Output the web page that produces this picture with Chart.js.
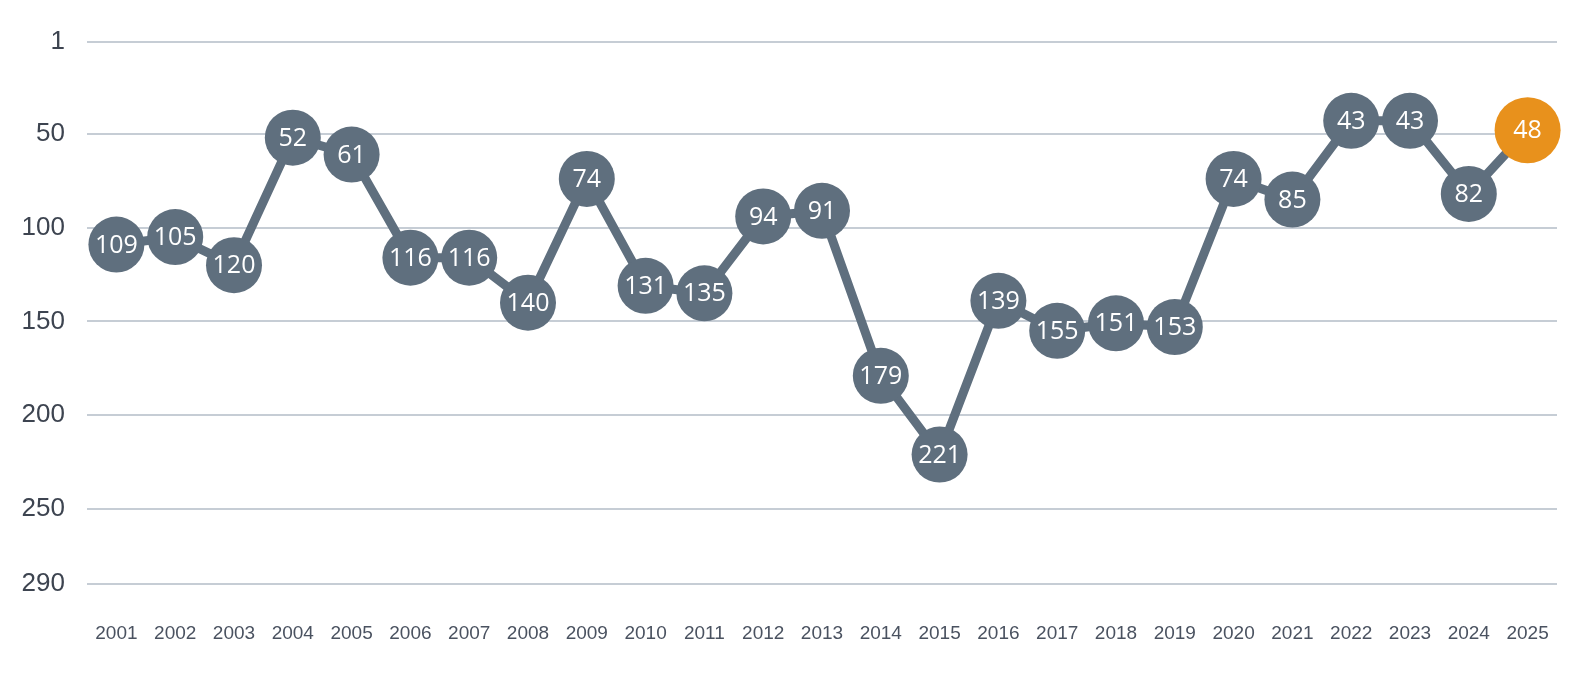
<!DOCTYPE html>
<html>
<head>
<meta charset="utf-8">
<script src="https://cdn.jsdelivr.net/npm/chart.js@4"></script>
<style>
  html, body { margin: 0; padding: 0; background: #fff; }
  #wrap { width: 1595px; height: 700px; }
</style>
</head>
<body>
<div id="wrap"><canvas id="rangChart"></canvas></div>
<script>
// jaren en rangposities
const jaren = ['2001','2002','2003','2004','2005','2006','2007','2008','2009','2010','2011','2012','2013',
               '2014','2015','2016','2017','2018','2019','2020','2021','2022','2023','2024','2025'];
const rang = [109, 105, 120, 52, 61, 116, 116, 140, 74, 131, 135, 94, 91,
              179, 221, 139, 155, 151, 153, 74, 85, 43, 43, 82, 48];
const yTicks = [1, 50, 100, 150, 200, 250, 290];

const grijs = '#5f6f7e';
const oranje = '#e8911c';

// laatste jaar in oranje en iets groter
const laatste = rang.length - 1;
const puntKleuren = rang.map((v, i) => i === laatste ? oranje : grijs);
const puntRadius = rang.map((v, i) => i === laatste ? 33 : 28);

// tekst in de cirkels
const puntLabels = {
    id: 'puntLabels',
    afterDatasetsDraw(chart) {
        const ctx = chart.ctx;
        const meta = chart.getDatasetMeta(0);
        ctx.save();
        ctx.fillStyle = '#ffffff';
        ctx.font = '25px "Open Sans", sans-serif';
        ctx.textAlign = 'center';
        ctx.textBaseline = 'middle';
        meta.data.forEach((pt, i) => {
            ctx.fillText(String(rang[i]), pt.x, pt.y + 1);
        });
        ctx.restore();
    }
};

new Chart(document.getElementById('rangChart'), {
    type: 'line',
    data: {
        labels: jaren,
        datasets: [{
            data: rang,
            borderColor: grijs,
            borderWidth: 9,
            pointRadius: puntRadius,
            pointHoverRadius: puntRadius,
            pointBorderWidth: 0,
            pointBackgroundColor: puntKleuren,
            tension: 0
        }]
    },
    options: {
        responsive: true,
        maintainAspectRatio: false,
        animation: false,
        layout: { padding: { top: 42, right: 38, left: 0, bottom: 0 } },
        plugins: {
            legend: { display: false },
            tooltip: { enabled: false }
        },
        scales: {
            x: {
                offset: true,
                grid: { display: false },
                border: { display: false },
                ticks: {
                    color: '#4a5260',
                    font: { family: 'Liberation Sans, Arial, sans-serif', size: 19 },
                    padding: 30,
                    maxRotation: 0,
                    autoSkip: false
                },
                afterFit(scale) { scale.height = 116; }
            },
            y: {
                reverse: true,
                min: 1,
                max: 290,
                afterBuildTicks(scale) {
                    scale.ticks = yTicks.map(v => ({ value: v }));
                },
                grid: { color: '#c6cdd5', lineWidth: 2, drawTicks: false },
                border: { display: false },
                ticks: {
                    color: '#3d4450',
                    font: { family: 'Liberation Sans, Arial, sans-serif', size: 26 },
                    padding: 22
                },
                afterFit(scale) { scale.width = 87; }
            }
        }
    },
    plugins: [puntLabels]
});
</script>
</body>
</html>
